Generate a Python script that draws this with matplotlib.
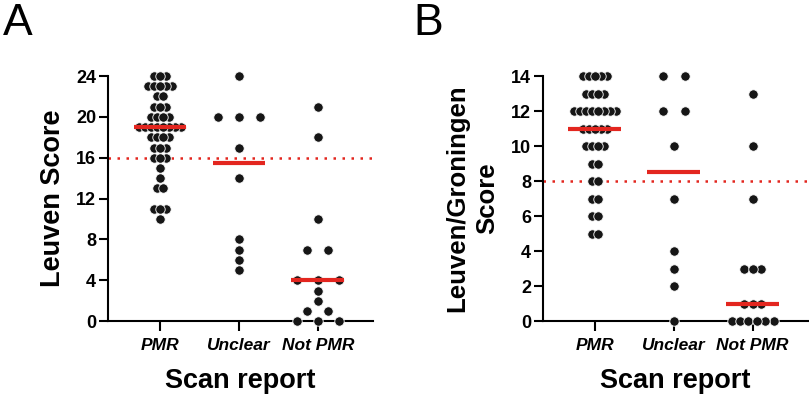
import numpy as np
import matplotlib

matplotlib.use('Agg')
import matplotlib.pyplot as plt

plt.rcParams['font.family'] = ['Liberation Sans', 'DejaVu Sans']

categories = ['PMR', 'Unclear', 'Not PMR']

# Leuven score per patient, by scan report (panel A)
leuven_pmr = [24, 24, 24, 23, 23, 23, 23, 23, 22, 22, 21, 21, 21, 20, 20, 20, 20,
              19, 19, 19, 19, 19, 19, 19, 19, 18, 18, 18, 18, 17, 17, 17, 16, 16, 16,
              15, 14, 13, 13, 11, 11, 11, 10]
leuven_unclear = [24, 20, 20, 20, 17, 14, 8, 7, 6, 5]
leuven_not_pmr = [21, 18, 10, 7, 7, 4, 4, 4, 3, 2, 1, 1, 0, 0, 0]

# Leuven/Groningen score per patient (panel B)
lg_pmr = [14, 14, 14, 14, 14, 13, 13, 13, 13, 12, 12, 12, 12, 12, 12, 12, 12,
          11, 11, 11, 11, 11, 10, 10, 10, 10, 9, 9, 8, 8, 7, 7, 6, 6, 5, 5]
lg_unclear = [14, 14, 12, 12, 10, 7, 4, 3, 2, 0]
lg_not_pmr = [13, 10, 7, 3, 3, 3, 1, 1, 1, 0, 0, 0, 0, 0, 0]

cutoff_a = 16
cutoff_b = 8

RED = '#e3261f'
DOT = '#161616'


def swarm(ax, xpos, values):
    vals = np.asarray(values)
    uniq, counts = np.unique(vals, return_counts=True)
    step = min(0.272, 0.53 / max(counts.max() - 1, 1))
    xs, ys = [], []
    for v, n in zip(uniq, counts):
        offs = (np.arange(n) - (n - 1) / 2) * step
        order = np.argsort(-np.abs(offs), kind='stable')
        xs.extend(xpos + offs[order])
        ys.extend([v] * n)
    ax.scatter(xs, ys, s=46, color=DOT, edgecolors='white', linewidths=0.6,
               zorder=3, clip_on=False)
    med = np.median(vals)
    ax.plot([xpos - 0.335, xpos + 0.335], [med, med], color=RED, lw=3,
            solid_capstyle='butt', zorder=4, clip_on=False)


def style_axes(ax, top, step):
    ax.set_xlim(-0.66, 2.7)
    ax.set_ylim(0, top)
    ax.set_yticks(np.arange(0, top + 1, step))
    ax.set_xticks(range(3))
    ax.set_xticklabels(categories, fontsize=12.5, fontweight='bold', fontstyle='italic')
    for lab in ax.get_yticklabels():
        lab.set_fontweight('bold')
        lab.set_fontsize(13)
    ax.spines['top'].set_visible(False)
    ax.spines['right'].set_visible(False)
    for s in ('left', 'bottom'):
        ax.spines[s].set_linewidth(1.5)
    ax.tick_params(axis='y', length=6.5, width=1.5, pad=2)
    ax.tick_params(axis='x', length=7, width=1.5, pad=5)
    ax.set_xlabel('Scan report', fontsize=19.5, fontweight='bold', labelpad=11)


fig = plt.figure(figsize=(8.09, 3.96), dpi=100)
ax1 = fig.add_axes([0.1335, 0.189, 0.3276, 0.619])
ax2 = fig.add_axes([0.671, 0.189, 0.3276, 0.619])

for ax, groups, cut in ((ax1, [leuven_pmr, leuven_unclear, leuven_not_pmr], cutoff_a),
                        (ax2, [lg_pmr, lg_unclear, lg_not_pmr], cutoff_b)):
    for i, g in enumerate(groups):
        swarm(ax, i, g)
    ax.plot([-0.66, 2.7], [cut, cut], color=RED, lw=1.8, linestyle=(0, (1, 2.6)),
            zorder=2, clip_on=False)

style_axes(ax1, 24, 4)
style_axes(ax2, 14, 2)

ax1.set_ylabel('Leuven Score', fontsize=19.5, fontweight='bold')
ax1.yaxis.set_label_coords(-0.16, 0.5)
ax2.set_ylabel('Leuven/Groningen\nScore', fontsize=18.5, fontweight='bold',
               multialignment='center', linespacing=1.3)
ax2.yaxis.set_label_coords(-0.165, 0.5)

fig.text(0.003, 0.912, 'A', fontsize=32, va='baseline')
fig.text(0.511, 0.912, 'B', fontsize=32, va='baseline')

fig.savefig('out.png', dpi=100)
